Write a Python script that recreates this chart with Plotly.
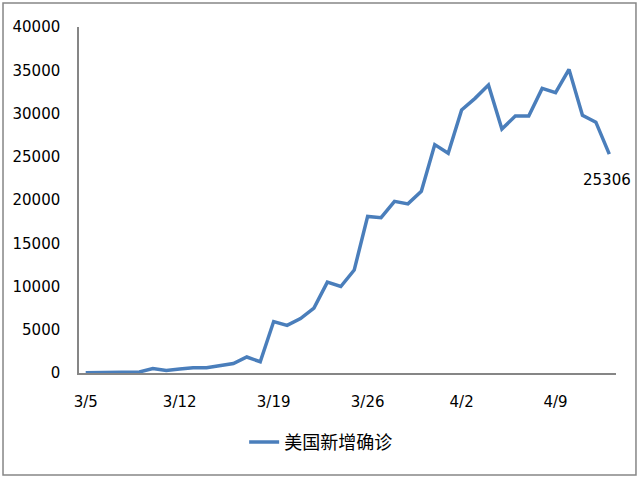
import plotly.graph_objects as go

# daily new confirmed cases in the US
dates = ["3/5", "3/6", "3/7", "3/8", "3/9", "3/10", "3/11", "3/12", "3/13", "3/14",
         "3/15", "3/16", "3/17", "3/18", "3/19", "3/20", "3/21", "3/22", "3/23", "3/24",
         "3/25", "3/26", "3/27", "3/28", "3/29", "3/30", "3/31", "4/1", "4/2", "4/3",
         "4/4", "4/5", "4/6", "4/7", "4/8", "4/9", "4/10", "4/11", "4/12", "4/13"]
new_cases = [40, 60, 70, 80, 120, 520, 300, 450, 600, 620,
             850, 1100, 1850, 1300, 5950, 5500, 6300, 7500, 10500, 10000,
             11900, 18100, 17950, 19850, 19550, 21000, 26400, 25400, 30400, 31750,
             33300, 28200, 29700, 29700, 32900, 32400, 35100, 29800, 29000, 25306]
shown_dates = ["3/5", "3/12", "3/19", "3/26", "4/2", "4/9"]
y_ticks = [0, 5000, 10000, 15000, 20000, 25000, 30000, 35000, 40000]
series_name = "美国新增确诊"

axis_grey = "#868686"
font_latin = "DejaVu Sans"

fig = go.Figure()
fig.add_trace(go.Scatter(x=dates, y=new_cases, mode="lines", name=series_name,
                         line=dict(color="#4A7EBB", width=3.5)))

# label on the last point
fig.add_annotation(x=dates[-1], y=new_cases[-1], text=str(new_cases[-1]),
                   showarrow=False, yshift=-26, xshift=-2,
                   font=dict(family=font_latin, size=15, color="black"))

fig.update_xaxes(type="category", categoryorder="array", categoryarray=dates,
                 range=[-0.5, len(dates) - 0.5], automargin=False,
                 tickmode="array", tickvals=shown_dates, ticktext=shown_dates,
                 showline=True, linecolor=axis_grey, linewidth=2,
                 showgrid=False, zeroline=False, ticks="",
                 ticklabelstandoff=14,
                 tickfont=dict(family=font_latin, size=15, color="black"))
fig.update_yaxes(range=[0, 40000], automargin=False,
                 tickmode="array", tickvals=y_ticks, ticktext=[str(v) for v in y_ticks],
                 showline=True, linecolor=axis_grey, linewidth=1.5,
                 showgrid=False, zeroline=False, ticks="",
                 ticklabelstandoff=14,
                 tickfont=dict(family=font_latin, size=15, color="black"))

# grey frame round the whole chart
fig.add_shape(type="rect", xref="paper", yref="paper",
              x0=-0.1415, x1=1.0372, y0=-0.2948, y1=1.0694,
              line=dict(color=axis_grey, width=1.5), layer="below")

fig.update_layout(
    width=640, height=480,
    margin=dict(l=79, r=24, t=27, b=107, autoexpand=False),
    paper_bgcolor="white", plot_bgcolor="white",
    showlegend=True,
    legend=dict(orientation="h", x=0.45, xanchor="center", y=-0.2, yanchor="middle",
                font=dict(family="Noto Sans CJK SC", size=18, color="black")),
)

# page has a default 8px body margin; drop it so the chart sits at the corner
fig.write_html("out.html", config={"displayModeBar": False},
               post_script="document.body.style.margin='0';")
